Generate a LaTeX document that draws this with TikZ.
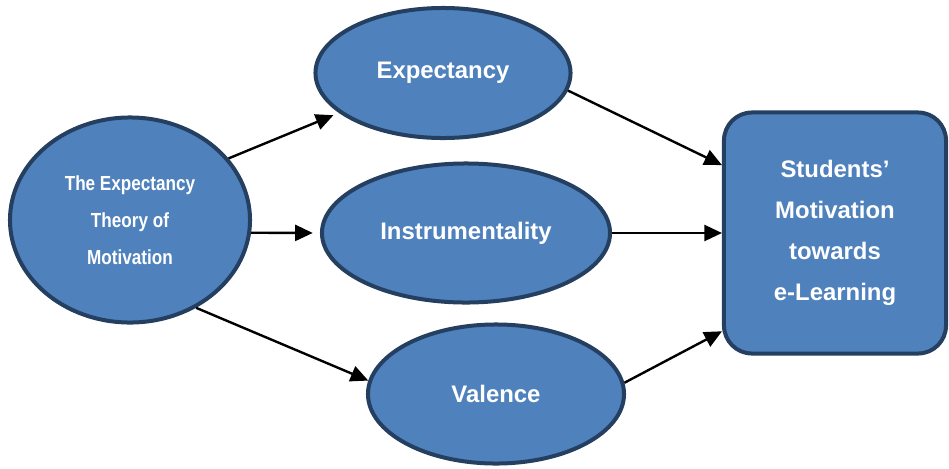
\documentclass[tikz,border=0pt]{standalone}
\usepackage{fontspec}
\setmainfont{Liberation Sans}
\newfontfamily\narrowfont[FakeStretch=0.84]{Liberation Sans}
\usetikzlibrary{shapes.geometric,arrows.meta}
\definecolor{shapefill}{HTML}{4F81BD}
\definecolor{shapeline}{HTML}{243F60}
\tikzset{
    oval/.style={ellipse,draw=shapeline,fill=shapefill,line width=0.1cm,text=white,align=center,
        font=\bfseries\fontsize{17}{29}\selectfont},
    arr/.style={-{Triangle[length=0.44cm,width=0.4cm]},line width=0.06cm}
}

\begin{document}
\begin{tikzpicture}[x=0.025cm,y=-0.025cm]
    \useasboundingbox (0,0) rectangle (949,468);
    \node[oval,minimum width=6cm,minimum height=5.125cm,
        font=\narrowfont\bfseries\fontsize{14.5}{26.5}\selectfont] (theory) at (130,220)
        {The Expectancy\\Theory of\\Motivation};
    \node[oval,minimum width=6.375cm,minimum height=3.25cm] (expect) at (443,73) {Expectancy};
    \node[oval,minimum width=7.2cm,minimum height=3.475cm] (instr) at (466,233) {Instrumentality};
    \node[oval,minimum width=6.4cm,minimum height=3.475cm] (valence) at (496,394) {Valence};
    \node[oval,ellipse=false,rectangle,rounded corners=0.7cm,minimum width=5.55cm,minimum height=6.025cm]
        (goal) at (835,233) {Students’\\Motivation\\towards\\e-Learning};
    % theory -> factors
    \foreach \dst/\a/\b/\s in {expect/32/201/0.15cm, instr/-6/180/0.18cm, valence/-53/174/0cm}
        \draw[arr,shorten >=\s] (theory.\a) -- (\dst.\b);
    % factors -> motivation
    \foreach \src/\a/\b in {expect/-8/149, instr/0/180, valence/5/221}
        \draw[arr] (\src.\a) -- (goal.\b);
\end{tikzpicture}
\end{document}
